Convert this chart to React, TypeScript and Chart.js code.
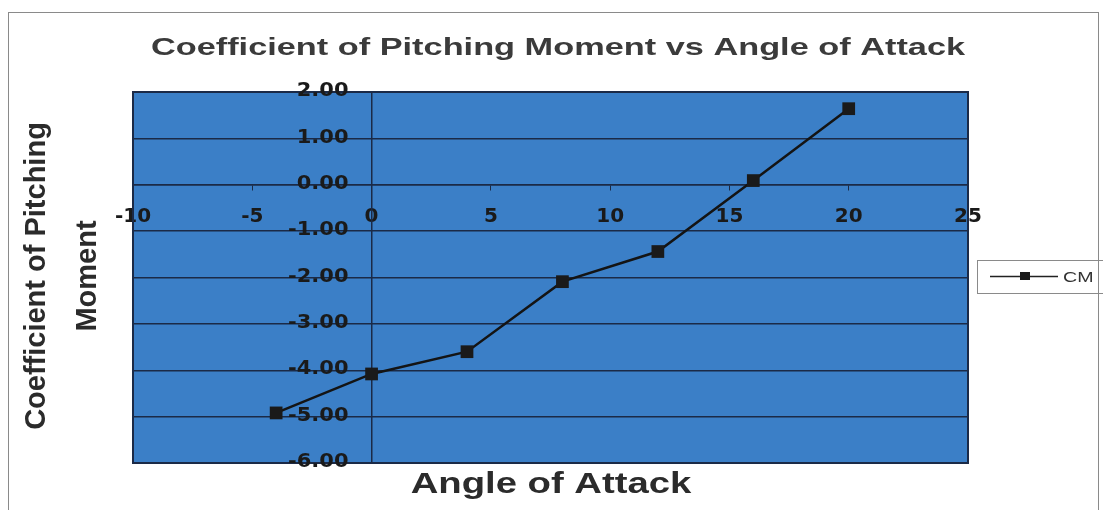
import React, { useEffect, useRef } from "react";
import { Chart, registerables } from "chart.js";

Chart.register(...registerables);

// ---- data ----
const angles = [-4, 0, 4, 8, 12, 16, 20];
const cmValues = [-4.92, -4.08, -3.6, -2.09, -1.44, 0.09, 1.64];
const seriesName = "CM";
const chartTitle = "Coefficient of Pitching Moment vs Angle of Attack";
const xTitle = "Angle of Attack";
const yTitleLines = ["Coefficient of Pitching", "Moment"];
const xMin = -10;
const xMax = 25;
const xStep = 5;
const yMin = -6;
const yMax = 2;
const yStep = 1;

const PLOT_BLUE = "#3b7fc7";
const GRID_DARK = "#1b2a47";
const TICK_FONT = "bold 20px 'DejaVu Sans', sans-serif";

function stretchedText(
  ctx: CanvasRenderingContext2D,
  text: string,
  x: number,
  y: number,
  font: string,
  color: string,
  sx: number,
  align: CanvasTextAlign = "center",
  rotate = 0,
  baseline: CanvasTextBaseline = "alphabetic"
) {
  ctx.save();
  ctx.font = font;
  ctx.fillStyle = color;
  ctx.textAlign = align;
  ctx.textBaseline = baseline;
  ctx.translate(x, y);
  if (rotate) ctx.rotate(rotate);
  ctx.scale(sx, 1);
  ctx.fillText(text, 0, 0);
  ctx.restore();
}

const decorPlugin = {
  id: "decor",
  beforeDraw(chart: any) {
    const { ctx, chartArea } = chart;
    ctx.save();
    ctx.fillStyle = "#ffffff";
    ctx.fillRect(0, 0, chart.width, chart.height);
    ctx.strokeStyle = "#8a8a8a";
    ctx.lineWidth = 1;
    ctx.strokeRect(8.5, 12.5, 1090, 520);
    ctx.fillStyle = PLOT_BLUE;
    ctx.fillRect(
      chartArea.left,
      chartArea.top,
      chartArea.right - chartArea.left,
      chartArea.bottom - chartArea.top
    );
    ctx.restore();
  },
  beforeDatasetsDraw(chart: any) {
    const { ctx, chartArea } = chart;
    ctx.save();
    ctx.strokeStyle = GRID_DARK;
    ctx.lineWidth = 2;
    ctx.strokeRect(
      chartArea.left,
      chartArea.top,
      chartArea.right - chartArea.left,
      chartArea.bottom - chartArea.top
    );
    ctx.restore();
    // y tick labels, right-aligned a little left of the vertical axis (x = 0)
    const ys = chart.scales.y;
    const xs = chart.scales.x;
    const axisX = xs.getPixelForValue(0);
    ys.ticks.forEach((t: any) => {
      const py = ys.getPixelForValue(t.value);
      stretchedText(ctx, Number(t.value).toFixed(2), axisX - 23, py - 1, TICK_FONT, "#1a1a1a", 1.05, "right", 0, "middle");
    });
  },
  afterDraw(chart: any) {
    const { ctx } = chart;
    // chart title
    stretchedText(ctx, chartTitle, 558, 55, "bold 24px 'Liberation Sans', Arial, sans-serif", "#3b3b3b", 1.43);
    // x axis title
    stretchedText(ctx, xTitle, 551, 493, "bold 29px 'Liberation Sans', Arial, sans-serif", "#2b2b2b", 1.32);
    // y axis title (two lines, rotated)
    stretchedText(ctx, yTitleLines[0], 45, 276, "bold 29px 'Liberation Sans', Arial, sans-serif", "#2b2b2b", 1, "center", -Math.PI / 2);
    stretchedText(ctx, yTitleLines[1], 96, 276, "bold 29px 'Liberation Sans', Arial, sans-serif", "#2b2b2b", 1, "center", -Math.PI / 2);
    // legend
    ctx.save();
    ctx.strokeStyle = "#8a8a8a";
    ctx.lineWidth = 1;
    ctx.strokeRect(977.5, 260.5, 130, 33);
    ctx.strokeStyle = "#222";
    ctx.lineWidth = 1.5;
    ctx.beginPath();
    ctx.moveTo(990, 276.5);
    ctx.lineTo(1058, 276.5);
    ctx.stroke();
    ctx.fillStyle = "#1a1a1a";
    ctx.fillRect(1020, 272, 10, 8);
    ctx.restore();
    stretchedText(ctx, seriesName, 1063, 282, "14px 'Liberation Sans', Arial, sans-serif", "#333", 1.4, "left");
  },
};

export default function App() {
  const canvasRef = useRef<HTMLCanvasElement | null>(null);

  useEffect(() => {
    document.body.style.margin = "0";
    const canvas = canvasRef.current;
    if (!canvas) return;
    const chart = new Chart(canvas, {
      type: "line",
      data: {
        datasets: [
          {
            label: seriesName,
            data: angles.map((a, i) => ({ x: a, y: cmValues[i] })),
            borderColor: "#141414",
            borderWidth: 2.5,
            backgroundColor: "#1a1a1a",
            pointStyle: "rect",
            pointRadius: 9,
            pointBorderWidth: 0,
            pointBackgroundColor: "#1a1a1a",
            tension: 0,
            clip: false as any,
          },
        ],
      },
      options: {
        animation: false,
        responsive: false,
        devicePixelRatio: 1,
        layout: { padding: { left: 133, right: 135, top: 92, bottom: 47 } },
        plugins: {
          legend: { display: false },
          title: { display: false },
          tooltip: { enabled: false },
        },
        scales: {
          x: {
            type: "linear",
            min: xMin,
            max: xMax,
            position: { y: 0 } as any,
            ticks: {
              stepSize: xStep,
              padding: 15,
              color: "#1a1a1a",
              font: { family: "'DejaVu Sans'", weight: "bold", size: 20 },
              maxRotation: 0,
            },
            grid: {
              drawOnChartArea: false,
              drawTicks: true,
              tickLength: 5,
              color: GRID_DARK,
            },
            border: { display: true, color: GRID_DARK, width: 1.5 },
          },
          y: {
            type: "linear",
            min: yMin,
            max: yMax,
            position: { x: 0 } as any,
            ticks: {
              stepSize: yStep,
              display: false,
            },
            grid: {
              color: GRID_DARK,
              lineWidth: 1.5,
              drawTicks: false,
            },
            border: { display: true, color: GRID_DARK, width: 1.5 },
          },
        },
      },
      plugins: [decorPlugin],
    });
    return () => chart.destroy();
  }, []);

  return (
    <div style={{ width: 1103, height: 510 }}>
      <canvas ref={canvasRef} width={1103} height={510} style={{ display: "block" }} />
    </div>
  );
}
